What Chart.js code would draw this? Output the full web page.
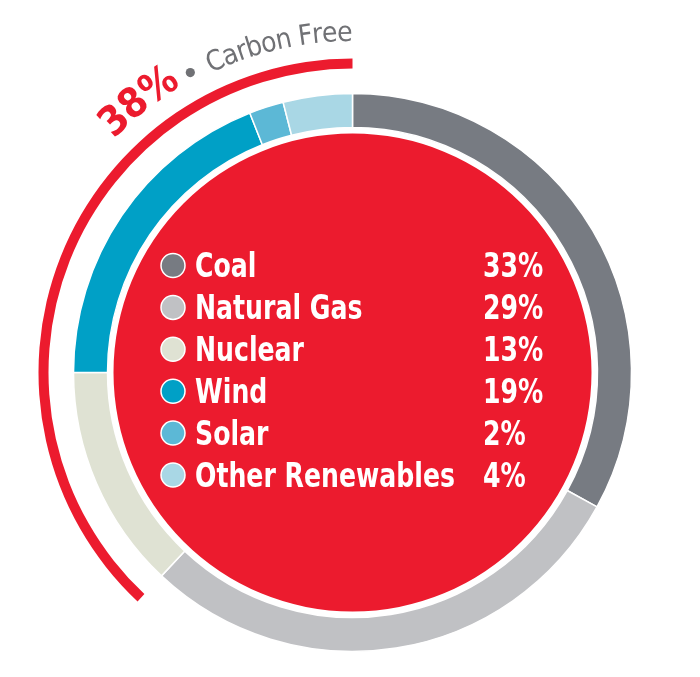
<!DOCTYPE html>
<html>
<head>
<meta charset="utf-8">
<style>
  html, body { margin: 0; padding: 0; background: #ffffff; }
  #wrap { width: 700px; height: 677px; position: relative; }
</style>
<script src="https://cdn.jsdelivr.net/npm/chart.js@4.4.1/dist/chart.umd.min.js"></script>
</head>
<body>
<div id="wrap"><canvas id="c" width="700" height="677"></canvas></div>
<script>
// ---- data ----
const categories = ['Coal', 'Natural Gas', 'Nuclear', 'Wind', 'Solar', 'Other Renewables'];
const shares = [33, 29, 13, 19, 2, 4];
const carbonFree = [false, false, true, true, true, true];
const sourceColors = ['#777b82', '#c0c1c4', '#dfe2d3', '#00a0c6', '#5cb8d6', '#a9d7e5'];
const groupLabel = 'Carbon Free';

// ---- derived ----
const RED = '#ec1b2e';
const GREY_TEXT = '#707175';
const cfShare = shares.reduce((s, v, i) => s + (carbonFree[i] ? v : 0), 0);
const fossilShare = shares.reduce((s, v, i) => s + (carbonFree[i] ? 0 : v), 0);

function arcText(ctx, cx, cy, R, text, a1, a2, font, color) {
  // a1, a2: angles (deg, clockwise from 12 o'clock) of first and last glyph centres
  ctx.save();
  ctx.font = font;
  const ch = Array.from(text);
  const adv = ch.map(c => ctx.measureText(c).width);
  const centers = [];
  let cum = 0;
  adv.forEach(w => { centers.push(cum + w / 2); cum += w; });
  const n = ch.length;
  const arcLen = (a2 - a1) * Math.PI / 180 * R;
  const t = n > 1 ? (arcLen - (centers[n - 1] - centers[0])) / (n - 1) : 0;
  ch.forEach((c, i) => {
    const s = centers[i] - centers[0] + i * t;
    const ang = a1 * Math.PI / 180 + s / R;
    ctx.save();
    ctx.translate(cx, cy);
    ctx.rotate(ang);
    ctx.translate(0, -R);
    ctx.textAlign = 'center';
    ctx.textBaseline = 'alphabetic';
    ctx.fillStyle = color;
    ctx.fillText(c, 0, 0);
    ctx.restore();
  });
  ctx.restore();
}

const overlay = {
  id: 'overlay',
  afterDraw(chart) {
    const ctx = chart.ctx;
    const disk = chart.getDatasetMeta(4).data[0];
    const cx = disk.x, cy = disk.y;

    // legend inside the disk
    const labelFont = 'bold 34px "Liberation Sans Narrow", "Arial Narrow", "DejaVu Sans Condensed", "Liberation Sans", sans-serif';
    ctx.save();
    ctx.font = labelFont;
    const sx = 260 / ctx.measureText('Other Renewables').width;
    categories.forEach((name, i) => {
      const by = cy - 95.5 + i * 41.9;
      // marker
      ctx.beginPath();
      ctx.arc(cx - 179.5, by - 11.5, 12, 0, Math.PI * 2);
      ctx.fillStyle = sourceColors[i];
      ctx.fill();
      ctx.lineWidth = 1.5;
      ctx.strokeStyle = '#ffffff';
      ctx.stroke();
      // label
      ctx.fillStyle = '#ffffff';
      ctx.textAlign = 'left';
      ctx.textBaseline = 'alphabetic';
      ctx.save();
      ctx.translate(cx - 157.5, by);
      ctx.scale(sx, 1);
      ctx.fillText(name, 0, 0);
      ctx.restore();
      ctx.save();
      ctx.translate(cx + 130.5, by);
      ctx.scale(sx, 1);
      ctx.fillText(shares[i] + '%', 0, 0);
      ctx.restore();
    });
    ctx.restore();

    // curved title
    arcText(ctx, cx, cy, 334, cfShare + '%', -43.4, -34.0,
      'bold 41px "DejaVu Sans Condensed", "Liberation Sans Narrow", "Liberation Sans", sans-serif', RED);
    // bullet
    const ba = -28.4 * Math.PI / 180;
    ctx.save();
    ctx.beginPath();
    ctx.arc(cx + Math.sin(ba) * 341, cy - Math.cos(ba) * 341, 4.6, 0, Math.PI * 2);
    ctx.fillStyle = GREY_TEXT;
    ctx.fill();
    ctx.restore();
    arcText(ctx, cx, cy, 331.5, groupLabel, -23.8, -1.3,
      '28px "DejaVu Sans Condensed", "Liberation Sans", Arial, sans-serif', GREY_TEXT);
  }
};

new Chart(document.getElementById('c'), {
  type: 'doughnut',
  data: {
    labels: categories,
    datasets: [
      { label: 'Carbon free', data: [fossilShare, cfShare], backgroundColor: ['rgba(0,0,0,0)', RED], borderWidth: 0, weight: 10 },
      { label: 'spacer', data: [1], backgroundColor: ['rgba(0,0,0,0)'], borderWidth: 0, weight: 25 },
      { label: 'Share', data: shares, backgroundColor: sourceColors, borderColor: '#ffffff', borderWidth: 1.5, weight: 34 },
      { label: 'gap', data: [1], backgroundColor: ['rgba(0,0,0,0)'], borderWidth: 0, weight: 6 },
      { label: 'disk', data: [1], backgroundColor: [RED], borderWidth: 0, weight: 239 }
    ]
  },
  options: {
    responsive: false,
    animation: false,
    events: [],
    radius: 314,
    cutout: 0,
    layout: { padding: { left: 5, right: 0, top: 68, bottom: 0 } },
    plugins: { legend: { display: false }, tooltip: { enabled: false } }
  },
  plugins: [overlay]
});
</script>
</body>
</html>
